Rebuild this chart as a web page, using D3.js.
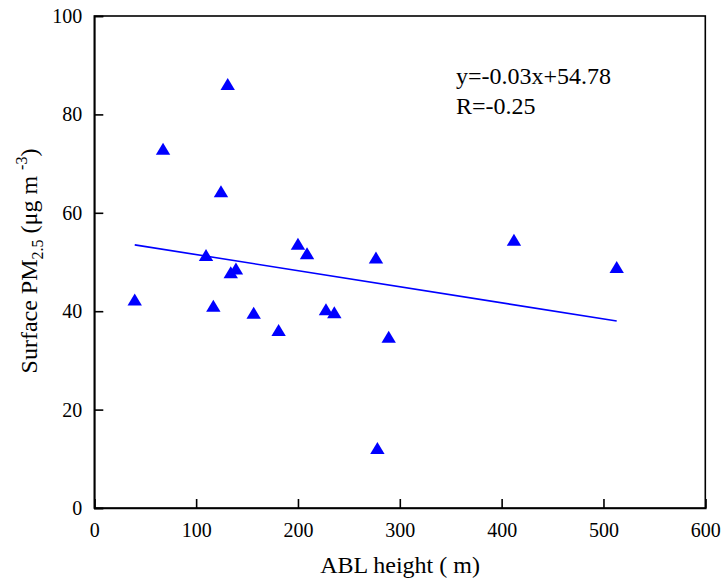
<!DOCTYPE html>
<html><head><meta charset="utf-8">
<script src="https://cdn.jsdelivr.net/npm/d3@7"></script>
<style>body{margin:0;background:#fff}svg{display:block}text{font-family:"Liberation Serif","Times New Roman",serif;fill:#000}</style>
</head><body><div id="chart"></div>
<script>
const ablHeight = [131, 67.5, 124.4, 200, 208.9, 109.7, 139.1, 134, 39.7, 116.9, 156.5, 181, 227.5, 235.7, 412.1, 276.6, 289.1, 278, 513];
const pm25 =      [86.2, 73.0, 64.4, 53.7, 51.8, 51.4, 48.7, 47.9, 42.4, 41.1, 39.7, 36.2, 40.4, 39.8, 54.5, 50.9, 34.8, 12.2, 49.0];
const xTicks = [0, 100, 200, 300, 400, 500, 600];
const yTicks = [0, 20, 40, 60, 80, 100];
const fitSlope = -0.0327, fitIntercept = 54.78;
const eqLines = ["y=-0.03x+54.78", "R=-0.25"];

const W = 725, H = 586;
const m = {l: 94.3, r: 19.7, t: 16, b: 78};
const svg = d3.select("#chart").append("svg").attr("width", W).attr("height", H);
const x = d3.scaleLinear().domain([0, 600]).range([m.l, W - m.r]);
const y = d3.scaleLinear().domain([0, 100]).range([H - m.b, m.t]);

// frame
svg.append("rect").attr("x", x(0)).attr("y", y(100)).attr("width", x(600) - x(0)).attr("height", y(0) - y(100))
  .attr("fill", "none").attr("stroke", "#000").attr("stroke-width", 1.6);

const xAxis = svg.append("g").attr("transform", `translate(0,${y(0)})`)
  .call(d3.axisBottom(x).tickValues(xTicks).tickSize(-9).tickPadding(15).tickFormat(d3.format("d")));
const yAxis = svg.append("g").attr("transform", `translate(${x(0)},0)`)
  .call(d3.axisLeft(y).tickValues(yTicks).tickSize(-9).tickPadding(12).tickFormat(d3.format("d")));
[xAxis, yAxis].forEach(g => {
  g.attr("font-family", '"Liberation Serif",serif');
  g.select(".domain").attr("stroke", "#000").attr("stroke-width", 1.6);
  g.selectAll(".tick line").attr("stroke", "#000").attr("stroke-width", 1.6);
  g.selectAll(".tick text").style("font-family", '"Liberation Serif",serif').style("font-size", "20px").attr("fill", "#000");
});

// regression line
const xr = d3.extent(ablHeight);
svg.append("line").attr("x1", x(xr[0])).attr("y1", y(fitSlope * xr[0] + fitIntercept))
  .attr("x2", x(xr[1])).attr("y2", y(fitSlope * xr[1] + fitIntercept))
  .attr("stroke", "#0000ff").attr("stroke-width", 1.6);

// triangles
const tw = 7.2, th = 6;
svg.append("g").selectAll("path").data(ablHeight.map((v, i) => [v, pm25[i]])).join("path")
  .attr("d", d => { const cx = x(d[0]), cy = y(d[1]); return `M${cx},${cy - th}L${cx + tw},${cy + th}L${cx - tw},${cy + th}Z`; })
  .attr("fill", "#0000ff");

// equation
svg.append("g").selectAll("text").data(eqLines).join("text")
  .attr("x", 456).attr("y", (d, i) => 84 + i * 30).style("font-size", "24px").text(d => d);

// x title
svg.append("text").attr("x", 400).attr("y", 573).attr("text-anchor", "middle").style("font-size", "24px").text("ABL height ( m)");

// y title
const yt = svg.append("text").attr("transform", "translate(37,261) rotate(-90)").attr("text-anchor", "middle").style("font-size", "24px");
yt.append("tspan").text("Surface PM");
yt.append("tspan").attr("dy", 6).style("font-size", "16px").text("2.5");
yt.append("tspan").attr("dy", -6).text(" (μg m ");
yt.append("tspan").attr("dy", -10).style("font-size", "16px").text("-3");
yt.append("tspan").attr("dy", 10).text(")");
</script></body></html>
